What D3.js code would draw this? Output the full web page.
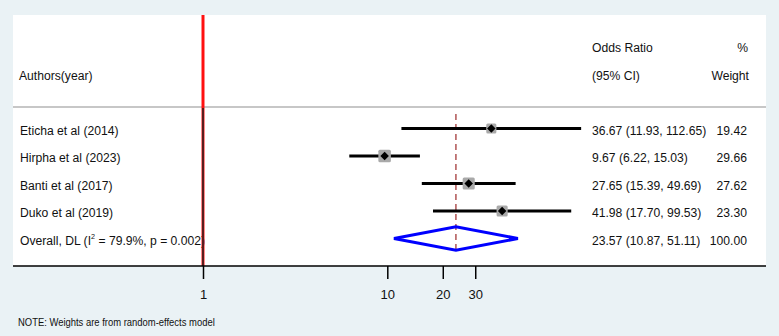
<!DOCTYPE html>
<html>
<head>
<meta charset="utf-8">
<script src="https://cdn.jsdelivr.net/npm/d3@7"></script>
<style>
  body { margin: 0; background: #eaf2f5; }
  text { font-family: "Liberation Sans", Arial, sans-serif; fill: #111; }
</style>
</head>
<body>
<div id="forest"></div>
<script>
// study data
var studies = ["Eticha et al (2014)", "Hirpha et al (2023)", "Banti et al (2017)", "Duko et al (2019)"];
var oddsRatio = [36.67, 9.67, 27.65, 41.98];
var lowerCI = [11.93, 6.22, 15.39, 17.70];
var upperCI = [112.65, 15.03, 49.69, 99.53];
var weights = [19.42, 29.66, 27.62, 23.30];

// pooled estimate
var overallLabel = ["Overall, DL (I", "2", " = 79.9%, p = 0.002)"];
var overallOR = [23.57, 10.87, 51.11];
var overallWeight = 100.00;

var tickValues = [1, 10, 20, 30];

var width = 779, height = 336;
var panel = {left: 13, right: 766, top: 15, bottom: 266};

var svg = d3.select("#forest").append("svg")
    .attr("width", width)
    .attr("height", height);

svg.append("rect")
    .attr("width", width)
    .attr("height", height)
    .attr("fill", "#eaf2f5");

svg.append("rect")
    .attr("x", panel.left)
    .attr("y", panel.top)
    .attr("width", panel.right - panel.left)
    .attr("height", panel.bottom - panel.top)
    .attr("fill", "#ffffff");

// log scale for odds ratios
var x = d3.scaleLog()
    .domain([1, 10])
    .range([203, 387.3]);

// one row per study plus the overall row
var y = d3.scalePoint()
    .domain(d3.range(studies.length + 1))
    .range([128.5, 238.5]);

// narrow looking text, like the stata export
function label(x0, y0, str, anchor, size) {
    return svg.append("text")
        .attr("transform", "translate(" + x0 + "," + y0 + ") scale(0.9,1)")
        .attr("text-anchor", anchor || "start")
        .style("font-size", (size || 13.5) + "px")
        .text(str);
}

// headers
label(19, 79.5, "Authors(year)");
label(592, 51.5, "Odds Ratio");
label(592, 79.5, "(95% CI)");
label(748, 51.5, "%", "end");
label(749, 79.5, "Weight", "end");

// study labels and numbers
var fmt = d3.format(".2f");
studies.forEach(function(s, i) {
    label(20, y(i) + 6.3, s);
    label(592, y(i) + 6.3, fmt(oddsRatio[i]) + " (" + fmt(lowerCI[i]) + ", " + fmt(upperCI[i]) + ")");
    label(747, y(i) + 6.3, fmt(weights[i]), "end");
});

var ov = studies.length;
var ovText = label(20, y(ov) + 6.3, "");
ovText.append("tspan").text(overallLabel[0]);
ovText.append("tspan").attr("dy", -6).style("font-size", "8px").text(overallLabel[1]);
ovText.append("tspan").attr("dy", 6).text(overallLabel[2]);
label(592, y(ov) + 6.3, fmt(overallOR[0]) + " (" + fmt(overallOR[1]) + ", " + fmt(overallOR[2]) + ")");
label(747, y(ov) + 6.3, fmt(overallWeight), "end");

// separator under header
svg.append("line")
    .attr("x1", panel.left).attr("x2", panel.right)
    .attr("y1", 107).attr("y2", 107)
    .attr("stroke", "#b4b4b4")
    .attr("stroke-width", 1.5);

// null line at OR = 1
svg.append("line")
    .attr("x1", x(1)).attr("x2", x(1))
    .attr("y1", panel.top).attr("y2", panel.bottom)
    .attr("stroke", "#ff1010")
    .attr("stroke-width", 3);
svg.append("line")
    .attr("x1", x(1)).attr("x2", x(1))
    .attr("y1", 108).attr("y2", panel.bottom)
    .attr("stroke", "#222")
    .attr("stroke-width", 1.5);

// dashed line at the pooled estimate
svg.append("line")
    .attr("x1", x(overallOR[0])).attr("x2", x(overallOR[0]))
    .attr("y1", 114).attr("y2", y(ov) + 11.7)
    .attr("stroke", "#a33a3a")
    .attr("stroke-width", 1.3)
    .attr("stroke-dasharray", "6,4");

// confidence intervals
svg.selectAll(".ci")
    .data(studies)
    .enter().append("line")
    .attr("class", "ci")
    .attr("x1", function(d, i) { return x(lowerCI[i]); })
    .attr("x2", function(d, i) { return x(upperCI[i]); })
    .attr("y1", function(d, i) { return y(i); })
    .attr("y2", function(d, i) { return y(i); })
    .attr("stroke", "#000")
    .attr("stroke-width", 3);

// weight boxes
var side = function(w) { return 2.3 * Math.sqrt(w); };
svg.selectAll(".box")
    .data(studies)
    .enter().append("rect")
    .attr("class", "box")
    .attr("x", function(d, i) { return x(oddsRatio[i]) - side(weights[i]) / 2; })
    .attr("y", function(d, i) { return y(i) - side(weights[i]) / 2; })
    .attr("width", function(d, i) { return side(weights[i]); })
    .attr("height", function(d, i) { return side(weights[i]); })
    .attr("rx", 1.5)
    .attr("fill", "#a9a9a9");

// point estimates (square turned 45 degrees)
svg.selectAll(".pt")
    .data(studies)
    .enter().append("path")
    .attr("class", "pt")
    .attr("d", d3.symbol().type(d3.symbolSquare).size(36))
    .attr("transform", function(d, i) { return "translate(" + x(oddsRatio[i]) + "," + y(i) + ") rotate(45)"; })
    .attr("fill", "#000");

// pooled diamond
var yo = y(ov);
svg.append("polygon")
    .attr("points", [
        [x(overallOR[1]), yo],
        [x(overallOR[0]), yo - 11.7],
        [x(overallOR[2]), yo],
        [x(overallOR[0]), yo + 11.7]
    ].map(function(p) { return p.join(","); }).join(" "))
    .attr("fill", "none")
    .attr("stroke", "#0000ff")
    .attr("stroke-width", 3);

// x axis
svg.append("line")
    .attr("x1", panel.left).attr("x2", panel.right)
    .attr("y1", panel.bottom).attr("y2", panel.bottom)
    .attr("stroke", "#000")
    .attr("stroke-width", 1.5);

var axis = svg.append("g")
    .attr("transform", "translate(0," + panel.bottom + ")")
    .call(d3.axisBottom(x).tickValues(tickValues).tickSize(13).tickPadding(11).tickFormat(d3.format("d")));
axis.select(".domain").remove();
axis.selectAll(".tick line").attr("stroke", "#000").attr("stroke-width", 1.5);
axis.selectAll(".tick text")
    .style("font-family", "'Liberation Sans', Arial, sans-serif")
    .style("font-size", "13px")
    .attr("fill", "#111");

// footnote
label(18, 326, "NOTE: Weights are from random-effects model", "start", 10.5);
</script>
</body>
</html>
